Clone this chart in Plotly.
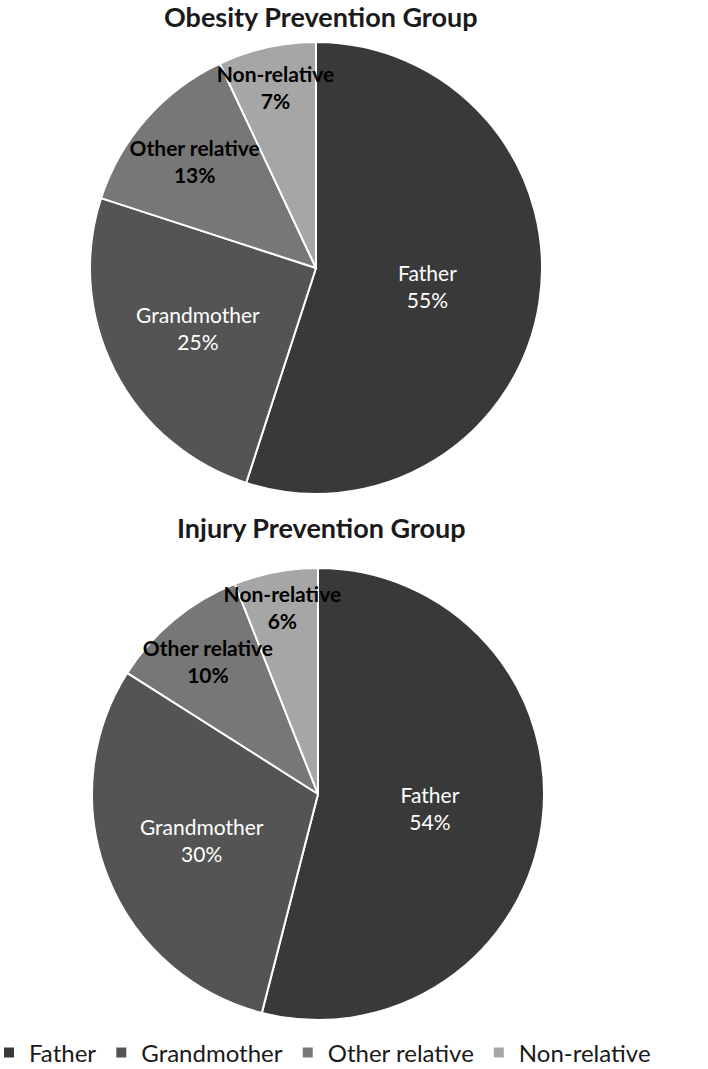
import plotly.graph_objects as go

labels = ["Father", "Grandmother", "Other relative", "Non-relative"]
obesity_values = [55, 25, 13, 7]
injury_values = [54, 30, 10, 6]
titles = ["Obesity Prevention Group", "Injury Prevention Group"]

colors = ["#393939", "#545454", "#777777", "#a6a6a6"]
text_colors = ["white", "white", "black", "black"]
text_weights = ["normal", "normal", "bold", "bold"]

W, H = 708, 1069
MB = 30               # bottom margin holding the legend
HP = H - MB           # plot-area height
FONT = "Lato, 'Open Sans', sans-serif"

def py(ypx):
    return 1 - ypx / HP

def px_dom(x0, x1, y0, y1):
    return dict(x=[x0 / W, x1 / W], y=[py(y1), py(y0)])

fig = go.Figure()
for i, (vals, dom) in enumerate([(obesity_values, px_dom(90, 542, 42, 494)),
                                 (injury_values, px_dom(92, 544, 568, 1020))]):
    # slices
    fig.add_trace(go.Pie(
        labels=labels, values=vals, sort=False, direction="clockwise", rotation=0,
        domain=dom,
        marker=dict(colors=colors, line=dict(color="white", width=2)),
        textinfo="none",
        hoverinfo="label+percent",
        showlegend=(i == 0),
    ))
    # labels drawn on top of all slices
    fig.add_trace(go.Pie(
        labels=labels, values=vals, sort=False, direction="clockwise", rotation=0,
        domain=dom,
        marker=dict(colors=["rgba(0,0,0,0)"] * len(labels), line=dict(width=0)),
        texttemplate="%{label}<br>%{percent:.0%}",
        textposition="inside",
        insidetextorientation="horizontal",
        textfont=dict(family=FONT, size=21, color=text_colors, weight=text_weights),
        hoverinfo="skip",
        showlegend=False,
    ))

for t, yc in zip(titles, [16, 527]):
    fig.add_annotation(text="<b>" + t + "</b>", x=321 / W, y=py(yc), xref="paper", yref="paper",
                       xanchor="center", yanchor="middle",
                       showarrow=False, font=dict(family=FONT, size=27, color="#1a1a1a"))

fig.update_layout(
    width=W, height=H,
    margin=dict(l=0, r=0, t=0, b=MB, autoexpand=False),
    paper_bgcolor="white", plot_bgcolor="white",
    font=dict(family=FONT, color="#1a1a1a"),
    legend=dict(orientation="h", x=-11 / W, xanchor="left", y=py(1053), yanchor="middle",
                font=dict(family=FONT, size=24, color="#1a1a1a"), traceorder="normal",
                itemwidth=30),
    uniformtext=dict(minsize=21, mode="show"),
)

fig.write_html("out.html", config={"displayModeBar": False},
               post_script="document.body.style.margin='0';")
